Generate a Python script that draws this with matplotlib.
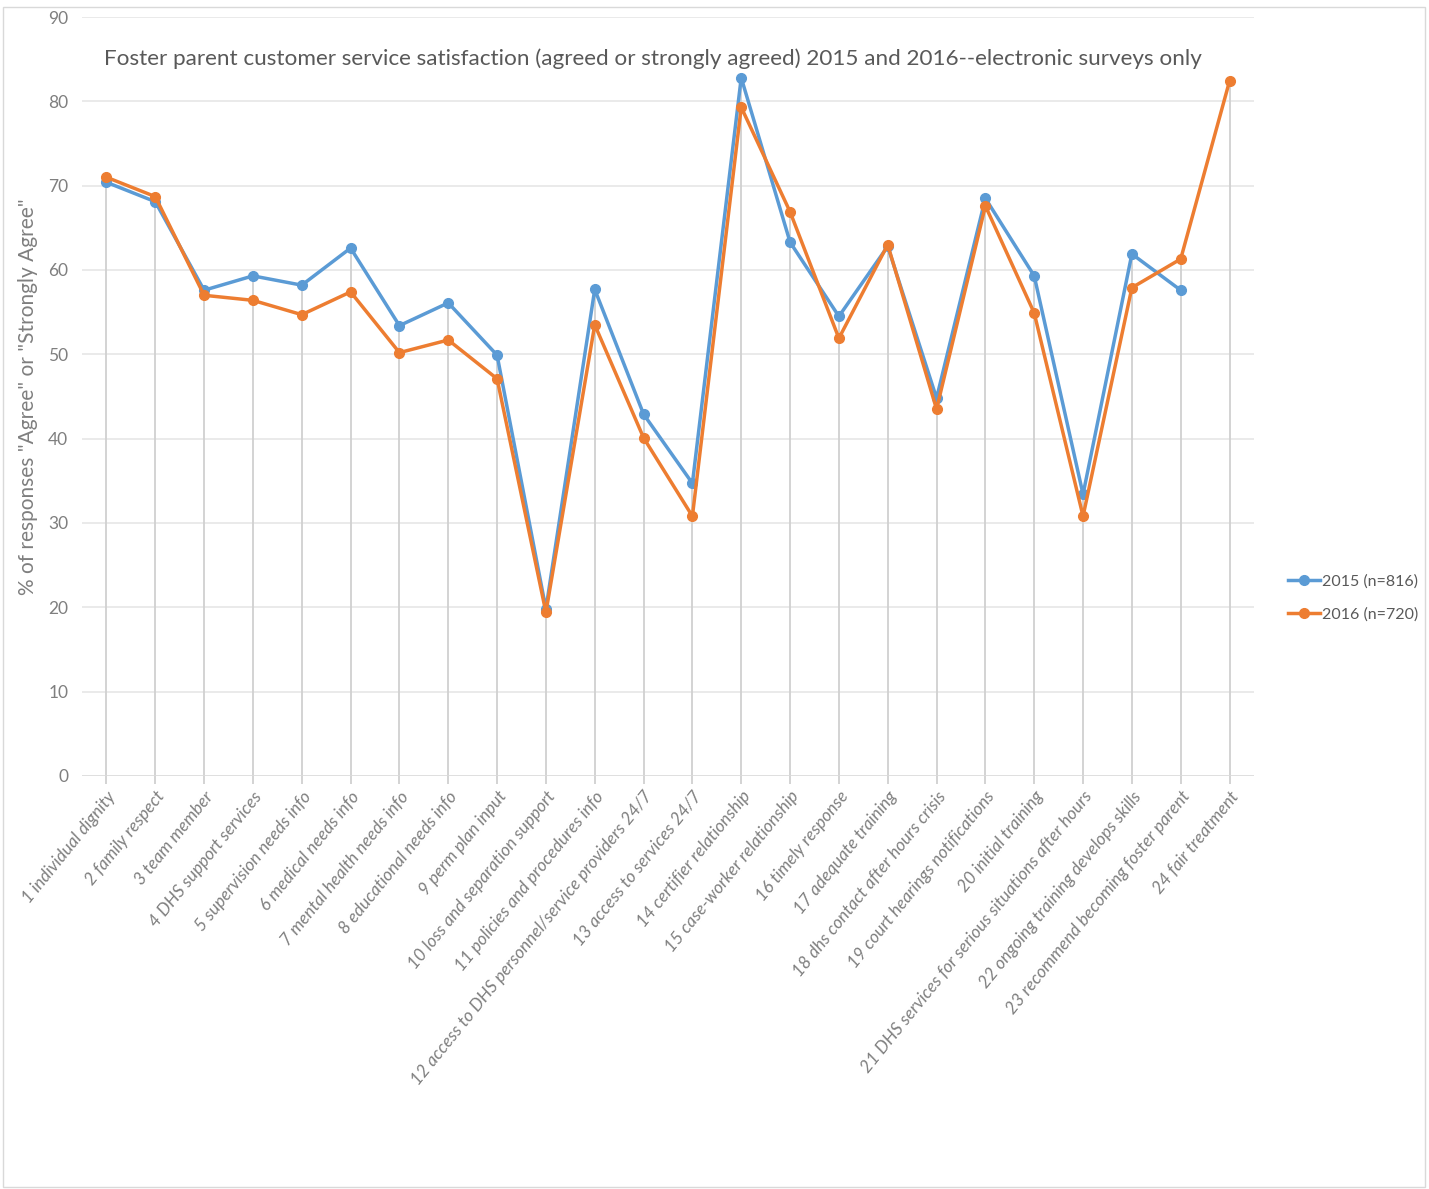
import matplotlib.pyplot as plt
import numpy as np
from matplotlib.patches import Rectangle

#-------data-------
categories = ['1 individual dignity', '2 family respect', '3 team member',
              '4 DHS support services', '5 supervision needs info',
              '6 medical needs info', '7 mental health needs info',
              '8 educational needs info', '9 perm plan input',
              '10 loss and separation support',
              '11 policies and procedures info',
              '12 access to DHS personnel/service providers 24/7',
              '13 access to services 24/7', '14 certifier relationship',
              '15 case-worker relationship', '16 timely response',
              '17 adequate training', '18 dhs contact after hours crisis',
              '19 court hearings notifications', '20 initial training',
              '21 DHS services for serious situations after hours',
              '22 ongoing training develops skills',
              '23 recommend becoming foster parent', '24 fair treatment']
y2015 = [70.4, 68.1, 57.6, 59.3, 58.2, 62.6, 53.4, 56.1, 49.9, 19.8, 57.7, 42.9,
         34.7, 82.8, 63.3, 54.5, 62.8, 44.8, 68.5, 59.3, 33.4, 61.9, 57.6, np.nan]
y2016 = [71.0, 68.7, 57.0, 56.4, 54.7, 57.4, 50.2, 51.7, 47.1, 19.4, 53.5, 40.1,
         30.8, 79.3, 66.9, 51.9, 63.0, 43.5, 67.6, 54.9, 30.8, 57.9, 61.3, 82.4]
labels = ['2015 (n=816)', '2016 (n=720)']
title = 'Foster parent customer service satisfaction (agreed or strongly agreed) 2015 and 2016--electronic surveys only'
ylabel = '% of responses "Agree" or "Strongly Agree"'

plt.rcParams['font.family'] = ['Lato', 'DejaVu Sans']

#-------figure-------
fig = plt.figure(figsize=(14.29, 11.89), dpi=100)
ax = fig.add_axes([0.0574, 0.3474, 0.8201, 0.6383])
fig.patches.append(Rectangle((0.002, 0.002), 0.995, 0.992, transform=fig.transFigure,
                             fill=False, edgecolor='#d9d9d9', lw=1))

x = np.arange(1, len(categories) + 1)
top = np.nanmax(np.vstack([y2015, y2016]), axis=0)

#gridlines + drop lines
for v in range(10, 91, 10):
    ax.axhline(v, color='#e6e6e6', lw=1.2, zorder=0)
ax.vlines(x, 0, top, color='#d0d0d0', lw=1.3, zorder=1)
ax.axhline(0, color='#d9d9d9', lw=1.2, zorder=1)

ax.plot(x, y2015, color='#5B9BD5', lw=2.5, marker='o', ms=7, label=labels[0], zorder=3)
ax.plot(x, y2016, color='#ED7D31', lw=2.5, marker='o', ms=7, label=labels[1], zorder=4)

ax.set_xlim(0.5, 24.5)
ax.set_ylim(0, 90)
ax.set_yticks(range(0, 91, 10))
for s in ax.spines.values():
    s.set_visible(False)
ax.tick_params(axis='y', length=0, labelsize=12.5, labelcolor='#7f7f7f', pad=10)
ax.tick_params(axis='x', length=6, color='#d0d0d0', width=1.3, labelsize=12.5,
               labelcolor='#7f7f7f', pad=3)
ax.set_xticks(x)
ax.set_xticklabels(categories, rotation=51, ha='right', rotation_mode='anchor',
                   style='italic')

ax.set_ylabel(ylabel, fontsize=15, color='#7f7f7f')
ax.yaxis.set_label_coords(-0.0375, 0.50)
ax.text(0.487, 0.945, title, transform=ax.transAxes, ha='center', va='center',
        fontsize=16.2, color='#595959')

ax.legend(loc='center left', bbox_to_anchor=(1.022, 0.2345), frameon=False,
          labelcolor='#595959', handlelength=2.0, handletextpad=0.15,
          labelspacing=1.2, borderpad=0, prop={'size': 11.5})

plt.savefig('out.png', dpi=100)
